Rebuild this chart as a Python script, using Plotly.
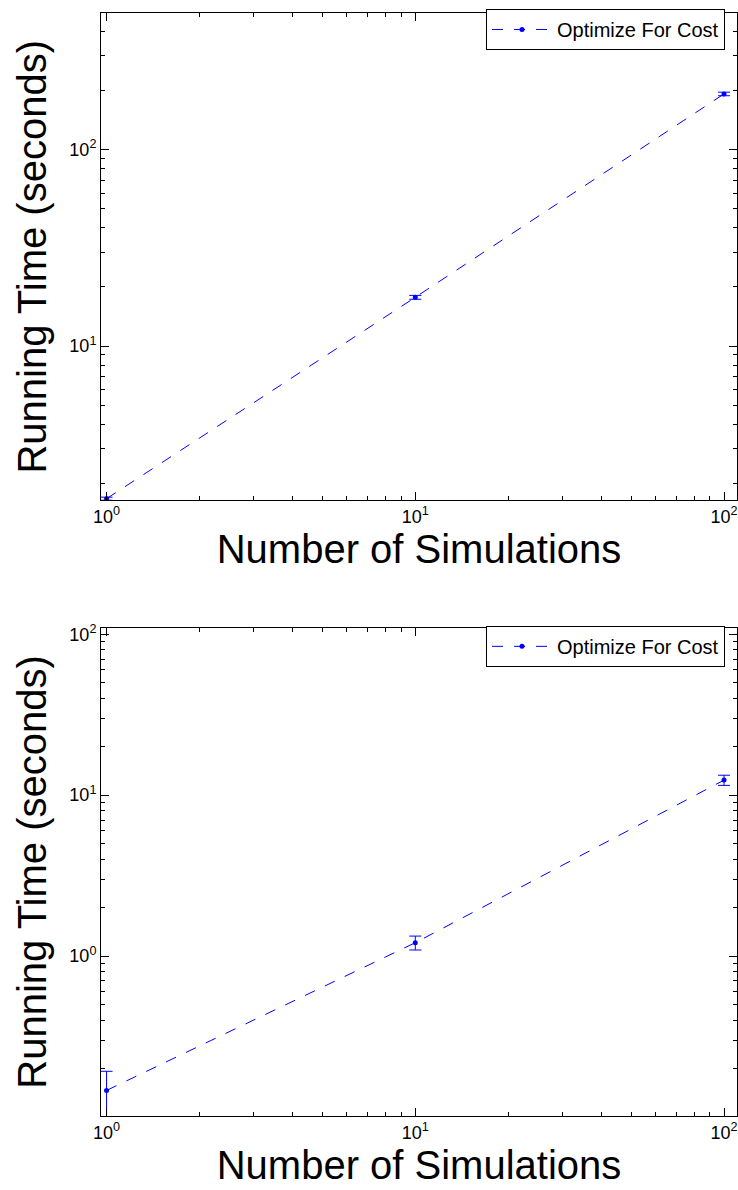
import plotly.graph_objects as go
from plotly.subplots import make_subplots

# ---- data ----
simulations = [1, 10, 100]
top_time = [1.67, 17.7, 192]
top_err = [0.03, 0.4, 4]
bottom_time = [0.146, 1.21, 12.4]
bottom_err = [0.046, 0.12, 0.9]
series_name = "Optimize For Cost"
x_title = "Number of Simulations"
y_title = "Running Time (seconds)"
major_vals = [0.1, 1, 10, 100, 1000]
major_text = ["10<sup>-1</sup>", "10<sup>0</sup>", "10<sup>1</sup>", "10<sup>2</sup>", "10<sup>3</sup>"]

W, H = 738, 1190
ml, mr = 101, 1
FONT = "Liberation Sans, Arial, sans-serif"
BLUE = "#0000ff"

minor_vals = [m * 10 ** e for e in range(-1, 3) for m in range(2, 10)]

fig = make_subplots(rows=2, cols=1)

def add(row, ys, errs, legend):
    fig.add_trace(go.Scatter(
        x=simulations, y=ys, name=series_name, mode="lines+markers",
        line=dict(color=BLUE, width=1, dash="11px,11px"),
        marker=dict(color=BLUE, size=5),
        error_y=dict(type="data", array=errs, color=BLUE, thickness=1, width=6),
        legend=legend, showlegend=True,
    ), row=row, col=1)

add(1, top_time, top_err, "legend")
add(2, bottom_time, bottom_err, "legend2")

def px_to_paper_y(py):
    return 1 - py / H

dom_top = [px_to_paper_y(496.7), px_to_paper_y(7.5)]
dom_bot = [px_to_paper_y(1115.7), px_to_paper_y(625)]

axis_common = dict(
    type="log", showgrid=False, zeroline=False, showline=True, linecolor="black",
    linewidth=1, mirror="ticks", ticks="inside", ticklen=8, tickcolor="black",
    tickmode="array", tickvals=major_vals, ticktext=major_text,
    tickfont=dict(family=FONT, size=18, color="black"),
    minor=dict(ticks="inside", ticklen=4, tickcolor="black", tickmode="array",
               tickvals=minor_vals, showgrid=False),
)

fig.update_xaxes(**axis_common, range=[-0.018, 2.042],
                 title=dict(text=x_title, font=dict(family=FONT, size=40, color="black"), standoff=4))
fig.update_yaxes(**axis_common,
                 title=dict(text=y_title, font=dict(family=FONT, size=40, color="black"), standoff=10))
fig.update_yaxes(range=[0.215, 2.693], domain=dom_top, row=1, col=1)
fig.update_yaxes(range=[-0.995, 2.04], domain=dom_bot, row=2, col=1)

legend_style = dict(
    bgcolor="white", bordercolor="black", borderwidth=1,
    font=dict(family=FONT, size=20, color="black"),
    xanchor="right", yanchor="top", x=(725 - ml) / (W - ml - mr),
    itemwidth=60, tracegroupgap=0,
)
fig.update_layout(
    width=W, height=H,
    margin=dict(l=ml, r=mr, t=0, b=0),
    paper_bgcolor="white", plot_bgcolor="white",
    font=dict(family=FONT, color="black"),
    legend=dict(**legend_style, y=px_to_paper_y(3)),
    legend2=dict(**legend_style, y=px_to_paper_y(623)),
)

fig.write_html("out.html")
